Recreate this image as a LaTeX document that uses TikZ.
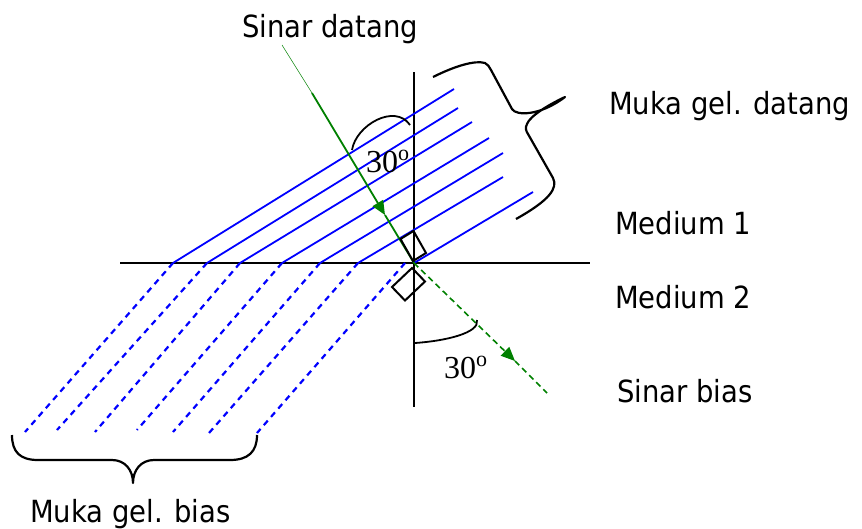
\documentclass[tikz,border=0pt]{standalone}
\usepackage{fontspec}
\newfontfamily\labelfont{DejaVu Sans}[FakeStretch=0.9]
\newfontfamily\anglefont{Liberation Serif}
\usetikzlibrary{arrows.meta}
\definecolor{raygreen}{RGB}{0,128,0}
\definecolor{frontblue}{RGB}{0,0,255}
\newcommand{\derajat}{\raisebox{12pt}{\fontsize{22}{22}\selectfont o}}

\begin{document}
\begin{tikzpicture}[
    x=1pt, y=-1pt,
    lbl/.style={anchor=base west, inner sep=0pt, font=\labelfont\fontsize{30.5}{36}\selectfont},
    ang/.style={anchor=base west, inner sep=0pt, font=\anglefont\fontsize{32}{38}\selectfont},
    axisLine/.style={line width=2pt, black},
    front/.style={line width=1.8pt, frontblue},
    frontDash/.style={line width=2.2pt, frontblue, dash pattern=on 6pt off 5pt},
    rayIn/.style={line width=1.8pt, raygreen},
    rayOut/.style={line width=1.6pt, raygreen, dash pattern=on 6pt off 4pt},
    rayTip/.style={-{Triangle[length=14pt, width=12pt]}},
    rmark/.style={line width=2pt, black},
    arcLine/.style={line width=1.8pt, black},
    braceLine/.style={line width=2.2pt, black, line join=round}
]
\useasboundingbox (0,0) rectangle (862,528);

\coordinate (O) at (414,263);
\coordinate (src) at (282,45);
\coordinate (thick) at (312,93);
\coordinate (tipIn) at (385,215);
\coordinate (tipOut) at (515,361);
\coordinate (endOut) at (547,393);

\draw[axisLine] (120,263) -- (590,263);
\draw[axisLine] (414,72) -- (414,407);

\draw[front] (173,263) -- (454,89);
\draw[front] (207,263) -- (458,108);
\draw[front] (240,263) -- (472,122);
\draw[front] (282,263) -- (489,138);
\draw[front] (320,263) -- (503,153);
\draw[front] (358,263) -- (503,177);
\draw[front] (O) -- (533,192);

\draw[frontDash] (173,263) -- (25,432);
\draw[frontDash] (207,263) -- (57,430);
\draw[frontDash] (240,263) -- (95,432);
\draw[frontDash] (282,263) -- (137,430);
\draw[frontDash] (320,263) -- (173,432);
\draw[frontDash] (358,263) -- (209,433);
\draw[frontDash] (405,263) -- (257,433);

\draw[raygreen, line width=0.5pt] (src) -- (thick);
\draw[rayIn, rayTip] (thick) -- (tipIn);
\draw[rayIn] (tipIn) -- (O);
\draw[rayOut, rayTip] (O) -- (tipOut);
\draw[rayOut] (tipOut) -- (endOut);

\draw[rmark] (413,261) -- ++(-12.5,-22) -- ++(13,-8) -- ++(12.5,22) -- cycle;
\draw[rmark] (412,268) -- ++(13,13.5) -- ++(-20,19) -- ++(-13,-13.5) -- cycle;

\draw[arcLine] (352,150) .. controls (356,125) and (395,103) .. (410,125);
\draw[arcLine] (415,343) .. controls (445,341) and (480,333) .. (477,320);

\draw[braceLine] (433,77) .. controls (455,66) and (475,60) .. (485,63)
  .. controls (488,64) and (489,67) .. (491,70) -- (512,109)
  .. controls (516,116) and (540,116) .. (565,97)
  .. controls (548,105) and (530,116) .. (527,124)
  .. controls (525,128) and (526,131) .. (528,134) -- (553,178)
  .. controls (558,188) and (550,200) .. (516,219);
\draw[braceLine] (12,435) .. controls (12,452) and (20,460) .. (38,460) -- (112,460)
  .. controls (125,460) and (133,470) .. (133,483)
  .. controls (133,470) and (141,460) .. (154,460) -- (230,460)
  .. controls (248,460) and (257,452) .. (257,435);

\node[lbl] (sinarDatang) at (242,37) {Sinar datang};
\node[lbl] (mukaDatang) at (609,114) {Muka gel. datang};
\node[lbl] (medium1) at (615,234) {Medium 1};
\node[lbl] (medium2) at (615,308) {Medium 2};
\node[lbl] (sinarBias) at (617,402) {Sinar bias};
\node[lbl] (mukaBias) at (30,522) {Muka gel. bias};
\node[ang] (sudutDatang) at (366,172) {30\derajat};
\node[ang] (sudutBias) at (444,378) {30\derajat};

\end{tikzpicture}
\end{document}
